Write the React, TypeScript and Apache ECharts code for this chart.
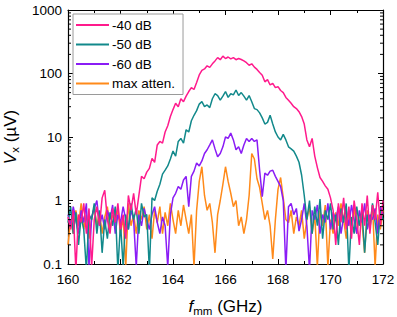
import React, { useEffect, useRef } from "react";
import * as echarts from "echarts";

const FREQ_START = 160;
const FREQ_STEP = 0.1;

const PINK = [
  0.55, 0.35, 0.7, 0.08, 0.6, 0.45, 0.9, 0.3, 0.75, 0.09,
  0.5, 0.8, 0.4, 1.1, 1.45, 0.5, 0.3, 0.75, 0.45, 0.9,
  0.35, 0.6, 0.25, 1.2, 0.7, 1.3, 0.6, 1.2, 2.4, 2.2,
  2.8, 3.2, 4.6, 4.0, 7.5, 8.5, 8.0, 12, 15, 21,
  27, 34, 30, 40, 36, 44, 52, 60, 56, 72,
  95, 112, 118, 132, 125, 142, 158, 178, 165, 188,
  172, 182, 170, 178, 165, 172, 166, 158, 148, 135,
  142, 126, 116, 104, 94, 74, 80, 66, 70, 60,
  62, 54, 50, 42, 38, 34, 30, 28, 25, 21,
  16, 9, 7, 9.5, 5, 3.3, 2.3, 2.0, 1.7, 1.5,
  1.1, 0.7, 0.2, 0.9, 0.45, 1.1, 0.35, 0.8, 0.25, 1.0,
  0.5, 0.2, 0.9, 0.4, 1.2, 0.3, 0.85, 0.5, 1.35, 0.4,
  1.0,
];

const TEAL = [
  0.45, 0.8, 0.3, 0.65, 0.2, 0.55, 0.35, 0.08, 0.6, 0.5,
  0.9, 0.3, 0.7, 0.15, 0.5, 0.25, 0.65, 0.4, 0.8, 0.08,
  0.45, 0.09, 0.6, 0.35, 0.9, 0.5, 0.75, 0.3, 0.9, 0.55,
  0.6, 0.08, 1.1, 1.0, 1.4, 1.8, 2.6, 3.0, 3.5, 4.5,
  6.0, 5.0, 8.5, 9.5, 8.0, 13, 12, 18, 22, 26,
  33, 36, 30, 32, 29, 40, 48, 45, 38, 44,
  52, 42, 48, 46, 55, 45, 50, 44, 38, 45,
  36, 28, 27, 24, 20, 16, 17, 22, 16, 12,
  10, 9, 11, 9, 7, 6.5, 6, 5, 4, 2.5,
  1.2, 0.5, 1.0, 0.3, 0.8, 0.4, 1.05, 0.25, 0.7, 0.5,
  0.9, 0.35, 0.6, 0.2, 0.75, 0.45, 0.9, 0.08, 0.55, 0.3,
  0.8, 0.4, 0.7, 0.15, 0.6, 0.35, 0.9, 0.45, 0.2, 0.7,
  0.5,
];

const PURPLE = [
  0.6, 0.4, 0.8, 0.5, 0.3, 0.7, 0.45, 0.9, 0.09, 0.55,
  0.75, 1.0, 0.4, 0.6, 0.35, 0.7, 0.5, 0.85, 0.3, 0.6,
  0.45, 0.8, 0.5, 0.35, 0.7, 0.5, 0.09, 0.6, 0.4, 0.75,
  0.5, 0.35, 0.6, 0.8, 0.45, 0.3, 0.55, 0.4, 0.09, 0.6,
  1.1, 1.3, 1.66, 1.5, 2.1, 2.4, 0.8, 2.4, 2.9, 3.9,
  3.5, 4.2, 5.5, 6.3, 7.5, 9, 6.5, 4.9, 5.5, 7.0,
  10, 9.5, 11.5, 9.0, 6.3, 7.0, 5.5, 7.5, 9.5, 8.5,
  9.5, 8.5, 9, 3.0, 1.15, 2.7, 2.5, 2.9, 3.0, 2.4,
  2.0, 1.65, 1.0, 0.08, 0.8, 0.9, 0.6, 0.75, 0.33, 0.5,
  0.9, 0.4, 0.08, 0.7, 0.5, 0.85, 0.3, 0.6, 0.45, 0.9,
  0.35, 0.65, 0.5, 0.8, 0.3, 0.55, 0.7, 0.4, 0.85, 0.5,
  0.3, 0.7, 0.45, 0.9, 0.35, 0.6, 0.5, 0.75, 0.3, 0.8,
  0.6,
];

const ORANGE = [
  0.2, 0.5, 0.3, 0.7, 0.4, 0.9, 0.35, 0.6, 0.25, 0.5,
  0.8, 0.4, 0.65, 0.3, 0.55, 0.8, 0.35, 0.6, 0.45, 0.75,
  0.3, 0.55, 0.09, 0.9, 0.4, 0.6, 0.3, 0.7, 0.5, 0.8,
  0.35, 0.6, 0.25, 0.7, 0.45, 0.8, 0.3, 0.65, 0.4, 0.9,
  0.5, 0.3, 0.7, 0.4, 0.85, 0.5, 0.3, 0.6, 0.09, 0.7,
  2.0, 3.4, 1.2, 0.7, 0.9, 0.45, 0.15, 0.6, 1.0, 1.8,
  3.4, 2.0, 1.3, 0.8, 1.0, 0.4, 0.55, 0.3, 0.5, 1.2,
  5.5, 4.5, 2.2, 1.6, 0.9, 0.5, 0.7, 0.4, 0.12, 0.5,
  1.5, 2.3, 1.1, 0.5, 0.45, 0.7, 0.3, 0.55, 0.4, 0.7,
  0.25, 0.5, 0.8, 0.3, 0.6, 0.09, 0.7, 0.4, 0.85, 0.09,
  0.5, 0.3, 0.65, 0.4, 0.9, 0.5, 0.25, 0.7, 0.4, 0.8,
  0.3, 0.6, 0.45, 0.15, 0.7, 0.4, 0.85, 0.09, 0.6, 0.35,
  0.7,
];

const SERIES_NAMES = ["-40 dB", "-50 dB", "-60 dB", "max atten."];
const COLORS = ["#ff1a8c", "#12898b", "#8a1cf5", "#ff8a1a"];
const Y_TICKS = [0.1, 1, 10, 100, 1000];
const MINOR_MULTIPLIERS = [2, 3, 4, 5, 6, 7, 8, 9];

const FONT = "'Liberation Sans', Arial, Helvetica, sans-serif";

function toPairs(vals: number[]) {
  return vals.map((v, i) => [+(FREQ_START + i * FREQ_STEP).toFixed(2), v]);
}

export default function App() {
  const ref = useRef<HTMLDivElement>(null);
  useEffect(() => {
    if (!ref.current) return;
    const chart = echarts.init(ref.current, undefined, { renderer: "svg" });
    const minorVals: number[][] = [];
    for (let d = 0; d < Y_TICKS.length - 1; d++) {
      for (const m of MINOR_MULTIPLIERS) minorVals.push([160, +(Y_TICKS[d] * m).toPrecision(3)]);
    }
    const dataSets = [PINK, TEAL, PURPLE, ORANGE];
    const lineSeries = dataSets.map((vals, k) => ({
      type: "line",
      name: SERIES_NAMES[k],
      data: toPairs(vals),
      showSymbol: false,
      symbol: "none",
      lineStyle: { color: COLORS[k], width: 1.5 },
      itemStyle: { color: COLORS[k] },
      clip: true,
      z: 10 - k,
    }));
    const tickStyle = { color: "#000", width: 1 };
    const nameRich = {
      i: { fontSize: 17, fontStyle: "italic", fontFamily: FONT, color: "#000" },
      s: { fontSize: 11.5, fontFamily: FONT, color: "#000", padding: [9, 0, 0, 0] },
    };
    chart.setOption({
      animation: false,
      textStyle: { fontFamily: FONT },
      grid: { left: 68, right: 14, top: 10, bottom: 53, containLabel: false, outerBoundsMode: "none" },
      legend: {
        data: SERIES_NAMES,
        orient: "vertical",
        left: 73,
        top: 14,
        icon: "rect",
        itemWidth: 33,
        itemHeight: 2,
        itemGap: 5.5,
        padding: [4, 8, 4, 3],
        borderColor: "#9a9a9a",
        borderWidth: 1,
        backgroundColor: "#fff",
        textStyle: { fontSize: 13.5, color: "#000", fontFamily: FONT, padding: [0, 0, 0, -2] },
      },
      xAxis: [
        {
          type: "value",
          min: 160,
          max: 172,
          interval: 2,
          name: "{i|f}{s|mm} (GHz)",
          nameLocation: "middle",
          nameGap: 32,
          nameTextStyle: { fontSize: 17, color: "#000", fontFamily: FONT, rich: nameRich },
          axisLine: { show: true, lineStyle: { color: "#000", width: 1.2 } },
          axisTick: { inside: true, length: 5, lineStyle: tickStyle },
          minorTick: { show: true, splitNumber: 2, length: 3, lineStyle: tickStyle },
          axisLabel: { fontSize: 13.5, color: "#000", margin: 8, fontFamily: FONT },
          splitLine: { show: false },
        },
        {
          type: "value",
          position: "top",
          min: 160,
          max: 172,
          interval: 2,
          axisLine: { show: true, lineStyle: { color: "#000", width: 1.2 } },
          axisTick: { inside: true, length: 5, lineStyle: tickStyle },
          minorTick: { show: true, splitNumber: 2, length: 3, lineStyle: tickStyle },
          axisLabel: { show: false },
          splitLine: { show: false },
        },
      ],
      yAxis: [
        {
          type: "log",
          logBase: 10,
          min: 0.1,
          max: 1000,
          name: "{i|V}{s|x} (µV)",
          nameLocation: "middle",
          nameGap: 40,
          nameTextStyle: { fontSize: 17, color: "#000", fontFamily: FONT, rich: nameRich },
          axisLine: { show: true, lineStyle: { color: "#000", width: 1.2 } },
          axisTick: { inside: true, length: 5, lineStyle: tickStyle },
          axisLabel: {
            fontSize: 13.5,
            color: "#000",
            margin: 6,
            fontFamily: FONT,
            formatter: (v: number) => String(+v.toPrecision(3)),
          },
          splitLine: { show: false },
        },
        {
          type: "log",
          logBase: 10,
          min: 0.1,
          max: 1000,
          position: "right",
          axisLine: { show: true, lineStyle: { color: "#000", width: 1.2 } },
          axisTick: { inside: true, length: 5, lineStyle: tickStyle },
          axisLabel: { show: false },
          splitLine: { show: false },
        },
      ],
      series: [
        ...lineSeries,
        {
          type: "custom",
          name: "minor",
          data: minorVals,
          silent: true,
          z: 20,
          renderItem: (params: any, api: any) => {
            const v = api.value(1);
            const p0 = api.coord([160, v]);
            const p1 = api.coord([172, v]);
            return {
              type: "group",
              children: [
                { type: "line", shape: { x1: p0[0], y1: p0[1], x2: p0[0] + 3, y2: p0[1] }, style: { stroke: "#000", lineWidth: 1 } },
                { type: "line", shape: { x1: p1[0] - 3, y1: p1[1], x2: p1[0], y2: p1[1] }, style: { stroke: "#000", lineWidth: 1 } },
              ],
            };
          },
        },
      ],
    });
    return () => chart.dispose();
  }, []);
  return <div ref={ref} style={{ position: "fixed", left: 0, top: 0, width: 397, height: 317, background: "#fff" }} />;
}
